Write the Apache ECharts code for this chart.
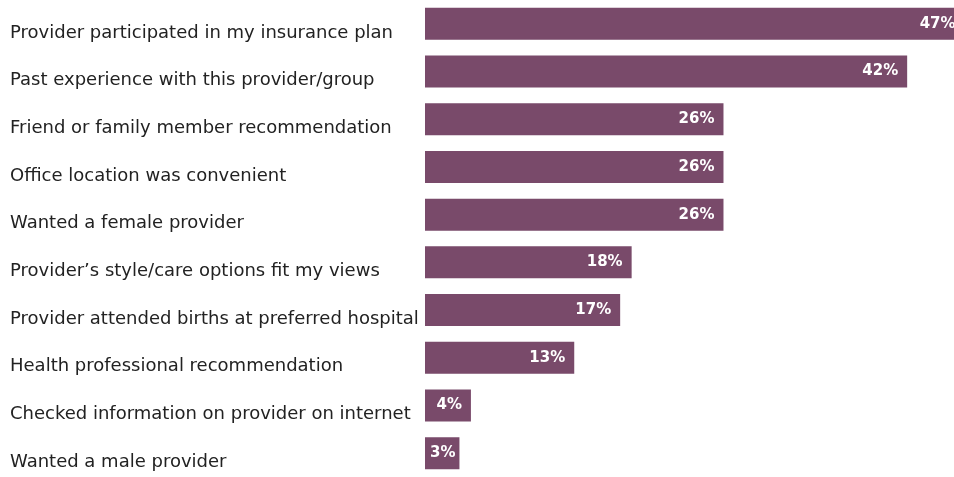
<!DOCTYPE html>
<html>
<head>
<meta charset="utf-8">
<script src="https://cdn.jsdelivr.net/npm/echarts@6/dist/echarts.min.js"></script>
<style>html,body{margin:0;padding:0;background:#fff}#c{width:954px;height:477px}</style>
</head>
<body>
<div id="c"></div>
<script>
const categories = [
  "Provider participated in my insurance plan",
  "Past experience with this provider/group",
  "Friend or family member recommendation",
  "Office location was convenient",
  "Wanted a female provider",
  "Provider\u2019s style/care options fit my views",
  "Provider attended births at preferred hospital",
  "Health professional recommendation",
  "Checked information on provider on internet",
  "Wanted a male provider"
];
const values = [47, 42, 26, 26, 26, 18, 17, 13, 4, 3];

const chart = echarts.init(document.getElementById('c'), null, {renderer: 'canvas'});
chart.setOption({
  animation: false,
  grid: {left: 425, top: -3, right: 0, height: 480, containLabel: false},
  xAxis: {type: 'value', min: 0, max: 46.08, show: false},
  yAxis: {
    type: 'category', data: categories, inverse: true,
    axisLine: {show: false}, axisTick: {show: false}, splitLine: {show: false},
    axisLabel: {
      align: 'left', verticalAlign: 'top', margin: 415, color: '#222',
      fontFamily: 'DejaVu Sans', fontSize: 18
    }
  },
  series: [{
    type: 'bar', barWidth: 32, clip: false,
    data: values.map(v => v < 4 ? {value: v, label: {distance: 4}} : v),
    itemStyle: {color: '#794a6a'},
    label: {
      show: true, position: 'insideRight', distance: 9,
      formatter: '{c}%', color: '#fff', fontWeight: 'bold',
      fontFamily: 'DejaVu Sans', fontSize: 15
    }
  }]
});
</script>
</body>
</html>
